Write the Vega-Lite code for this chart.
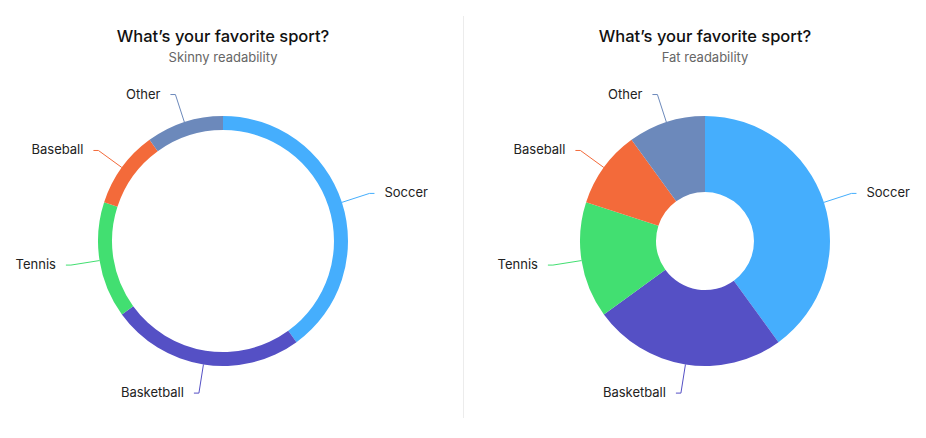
{
  "$schema": "https://vega.github.io/schema/vega-lite/v6.json",
  "autosize": {"type": "pad"},
  "padding": {"left": 3, "top": 15, "right": 0, "bottom": 0},
  "config": {
    "view": {"stroke": null},
    "font": "Inter",
    "title": {
      "font": "Inter",
      "fontSize": 16.5,
      "fontWeight": 500,
      "color": "#111111",
      "subtitleFont": "Inter",
      "subtitleFontSize": 13,
      "subtitleColor": "#666666",
      "subtitlePadding": 7,
      "offset": 6,
      "anchor": "middle",
      "frame": "group"
    },
    "text": {"font": "Inter", "fontSize": 13, "color": "#222222", "baseline": "middle"}
  },
  "datasets": {
    "sports": [
      {"sport": "Soccer", "share": 40, "rank": 1},
      {"sport": "Basketball", "share": 25, "rank": 2},
      {"sport": "Tennis", "share": 15, "rank": 3},
      {"sport": "Baseball", "share": 10, "rank": 4},
      {"sport": "Other", "share": 10, "rank": 5}
    ]
  },
  "data": {"name": "sports"},
  "transform": [
    {"window": [{"op": "sum", "field": "share", "as": "cum"}], "sort": [{"field": "rank"}], "frame": [null, 0]},
    {"joinaggregate": [{"op": "sum", "field": "share", "as": "total"}]},
    {"calculate": "2 * PI * (datum.cum - datum.share / 2) / datum.total", "as": "mid"},
    {"calculate": "125 * sin(datum.mid)", "as": "x0"},
    {"calculate": "125 * cos(datum.mid)", "as": "y0"},
    {"calculate": "154 * sin(datum.mid)", "as": "x1"},
    {"calculate": "154 * cos(datum.mid)", "as": "y1"},
    {"calculate": "datum.x1 + (datum.x1 >= 0 ? 5 : -5)", "as": "x2"},
    {"calculate": "datum.x2 + (datum.x1 >= 0 ? 10 : -10)", "as": "xt"}
  ],
  "spacing": 20,
  "bounds": "flush",
  "hconcat": [
    {
      "width": 440,
      "height": 340,
      "title": {"text": "What’s your favorite sport?", "subtitle": "Skinny readability"},
      "encoding": {
        "color": {
          "field": "sport",
          "type": "nominal",
          "scale": {
            "domain": ["Soccer", "Basketball", "Tennis", "Baseball", "Other"],
            "range": ["#45aefd", "#5550c5", "#42df71", "#f36a3a", "#6c89bb"]
          },
          "legend": null
        }
      },
      "layer": [
        {
          "mark": {"type": "arc", "innerRadius": 111, "outerRadius": 125},
          "encoding": {
            "theta": {"field": "share", "type": "quantitative", "stack": true},
            "order": {"field": "rank", "type": "quantitative"}
          }
        },
        {
          "mark": {"type": "rule", "strokeWidth": 1},
          "encoding": {
            "x": {"field": "x0", "type": "quantitative", "scale": {"domain": [-220, 220], "nice": false}, "axis": null},
            "y": {"field": "y0", "type": "quantitative", "scale": {"domain": [-170, 170], "nice": false}, "axis": null},
            "x2": {"field": "x1"},
            "y2": {"field": "y1"}
          }
        },
        {
          "mark": {"type": "rule", "strokeWidth": 1},
          "encoding": {
            "x": {"field": "x1", "type": "quantitative"},
            "x2": {"field": "x2"},
            "y": {"field": "y1", "type": "quantitative"}
          }
        },
        {
          "transform": [{"filter": "datum.x1 >= 0"}],
          "mark": {"type": "text", "align": "left"},
          "encoding": {
            "x": {"field": "xt", "type": "quantitative"},
            "y": {"field": "y1", "type": "quantitative"},
            "text": {"field": "sport"},
            "color": {"value": "#222222"}
          }
        },
        {
          "transform": [{"filter": "datum.x1 < 0"}],
          "mark": {"type": "text", "align": "right"},
          "encoding": {
            "x": {"field": "xt", "type": "quantitative"},
            "y": {"field": "y1", "type": "quantitative"},
            "text": {"field": "sport"},
            "color": {"value": "#222222"}
          }
        }
      ]
    },
    {
      "width": 2,
      "height": 340,
      "data": {"values": [{}]},
      "mark": {"type": "rule", "strokeWidth": 1},
      "encoding": {
        "x": {"datum": 0.5, "scale": {"domain": [0, 2], "nice": false}, "axis": null},
        "y": {"datum": 225, "scale": {"domain": [-170, 170], "nice": false}, "axis": null},
        "y2": {"datum": -177},
        "color": {"value": "#ececec"}
      }
    },
    {
      "width": 440,
      "height": 340,
      "title": {"text": "What’s your favorite sport?", "subtitle": "Fat readability"},
      "encoding": {
        "color": {
          "field": "sport",
          "type": "nominal",
          "scale": {
            "domain": ["Soccer", "Basketball", "Tennis", "Baseball", "Other"],
            "range": ["#45aefd", "#5550c5", "#42df71", "#f36a3a", "#6c89bb"]
          },
          "legend": null
        }
      },
      "layer": [
        {
          "mark": {"type": "arc", "innerRadius": 49, "outerRadius": 125},
          "encoding": {
            "theta": {"field": "share", "type": "quantitative", "stack": true},
            "order": {"field": "rank", "type": "quantitative"}
          }
        },
        {
          "mark": {"type": "rule", "strokeWidth": 1},
          "encoding": {
            "x": {"field": "x0", "type": "quantitative", "scale": {"domain": [-220, 220], "nice": false}, "axis": null},
            "y": {"field": "y0", "type": "quantitative", "scale": {"domain": [-170, 170], "nice": false}, "axis": null},
            "x2": {"field": "x1"},
            "y2": {"field": "y1"}
          }
        },
        {
          "mark": {"type": "rule", "strokeWidth": 1},
          "encoding": {
            "x": {"field": "x1", "type": "quantitative"},
            "x2": {"field": "x2"},
            "y": {"field": "y1", "type": "quantitative"}
          }
        },
        {
          "transform": [{"filter": "datum.x1 >= 0"}],
          "mark": {"type": "text", "align": "left"},
          "encoding": {
            "x": {"field": "xt", "type": "quantitative"},
            "y": {"field": "y1", "type": "quantitative"},
            "text": {"field": "sport"},
            "color": {"value": "#222222"}
          }
        },
        {
          "transform": [{"filter": "datum.x1 < 0"}],
          "mark": {"type": "text", "align": "right"},
          "encoding": {
            "x": {"field": "xt", "type": "quantitative"},
            "y": {"field": "y1", "type": "quantitative"},
            "text": {"field": "sport"},
            "color": {"value": "#222222"}
          }
        }
      ]
    }
  ]
}
